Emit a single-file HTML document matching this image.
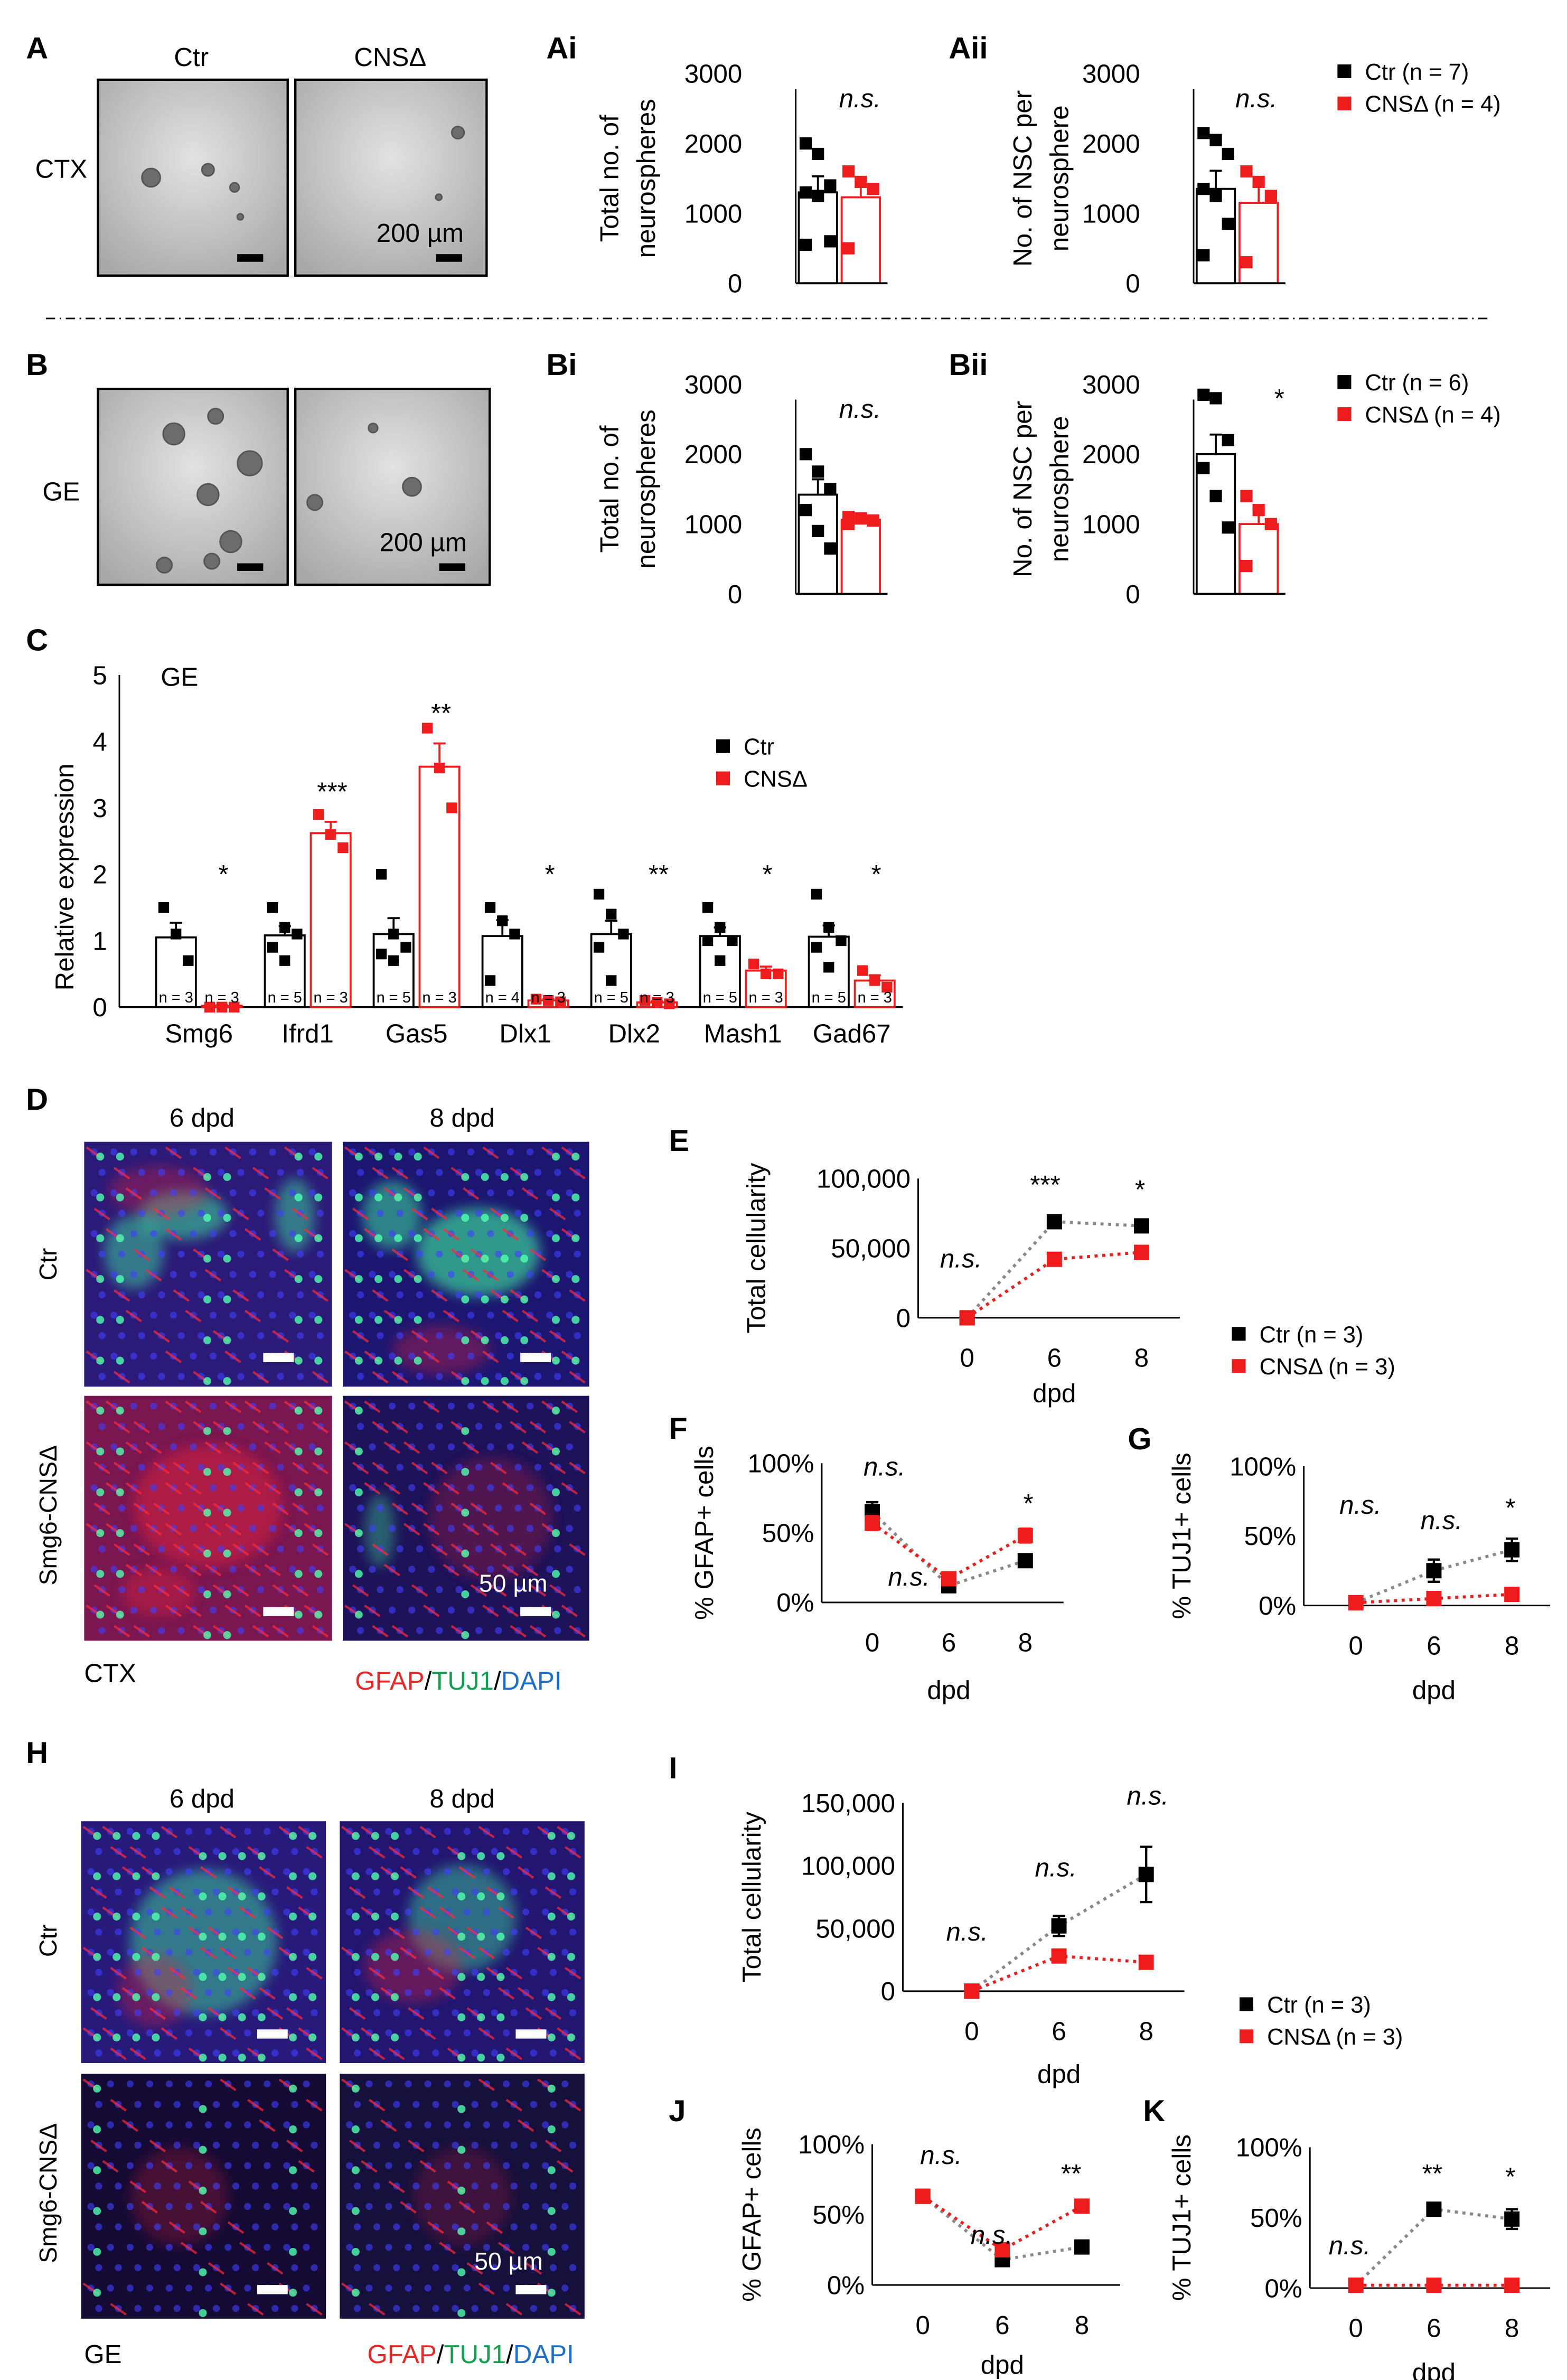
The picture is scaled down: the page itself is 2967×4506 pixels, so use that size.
<!DOCTYPE html>
<html><head><meta charset="utf-8"><style>
html,body{margin:0;padding:0;background:#fff}
svg{display:block}
text{font-family:"Liberation Sans",sans-serif;fill:#000}
</style></head><body>
<svg id="fig" xmlns="http://www.w3.org/2000/svg" width="2967" height="4506" viewBox="0 0 1024 1555">
<defs>
<filter id="bl" x="-50%" y="-50%" width="200%" height="200%"><feGaussianBlur stdDeviation="4"/></filter>
<radialGradient id="grayg" cx="50%" cy="40%" r="70%"><stop offset="0" stop-color="#e2e2e2"/><stop offset="1" stop-color="#a9a9a9"/></radialGradient>
</defs>
</svg>
<script>
// ---------- data ----------
const aiCtrPts=[2000,1850,1400,1300,1250,600,550];
const aiCnsPts=[1600,1450,1350,500];
const aiMeans=[1300,1230];
const aiErrs=[230,230];
const aiiCtrPts=[2150,2050,1850,1350,1250,850,400];
const aiiCnsPts=[1600,1450,1250,300];
const aiiMeans=[1350,1150];
const aiiErrs=[260,300];
const biCtrPts=[2000,1750,1500,1200,900,650];
const biCnsPts=[1100,1080,1050,1000];
const biMeans=[1420,1060];
const biErrs=[220,30];
const biiCtrPts=[2850,2800,2200,1800,1400,950];
const biiCnsPts=[1400,1200,1000,400];
const biiMeans=[2000,1000];
const biiErrs=[280,220];
const barTicks=[0,1000,2000,3000];

const genes=['Smg6','Ifrd1','Gas5','Dlx1','Dlx2','Mash1','Gad67'];
const geneCtrMean=[1.05,1.08,1.1,1.07,1.1,1.07,1.06];
const geneCtrErr=[0.22,0.14,0.24,0.24,0.2,0.13,0.17];
const geneCnsMean=[0.02,2.62,3.62,0.1,0.07,0.55,0.4];
const geneCnsErr=[0.01,0.17,0.35,0.02,0.02,0.06,0.08];
const geneCtrPts=[[1.5,1.1,0.7],[1.5,1.2,1.1,0.9,0.7],[2.0,1.1,0.9,0.8,0.7],[1.5,1.3,1.1,0.4],[1.7,1.4,1.1,0.9,0.4],[1.5,1.2,1.0,1.0,0.7],[1.7,1.2,1.0,0.9,0.6]];
const geneCnsPts=[[0,0,0],[2.9,2.6,2.4],[4.2,3.6,3.0],[0.12,0.1,0.08],[0.1,0.07,0.05],[0.65,0.5,0.5],[0.55,0.4,0.3]];
const geneSig=['*','***','**','*','**','*','*'];
const geneCtrN=['n = 3','n = 5','n = 5','n = 4','n = 5','n = 5','n = 5'];
const geneCnsN=['n = 3','n = 3','n = 3','n = 3','n = 3','n = 3','n = 3'];
const cTicks=[0,1,2,3,4,5];

const days=['0','6','8'];
const eCtr=[0,69000,66000], eCtrErr=[0,2500,3000];
const eCns=[0,42000,47000], eCnsErr=[0,2000,2500];
const eSig=['n.s.','***','*'];
const fCtr=[65,12,30], fCtrErr=[7,4,3];
const fCns=[57,17,48], fCnsErr=[5,3,5];
const fSig=['n.s.','n.s.','*'];
const gCtr=[2,25,40], gCtrErr=[1,8,8];
const gCns=[2,5,8], gCnsErr=[1,1,1];
const gSig=['n.s.','n.s.','*'];
const iCtr=[0,52000,93000], iCtrErr=[0,8000,22000];
const iCns=[0,28000,23000], iCnsErr=[0,5000,3000];
const iSig=['n.s.','n.s.','n.s.'];
const jCtr=[63,18,27], jCtrErr=[4,3,3];
const jCns=[63,25,56], jCnsErr=[4,4,4];
const jSig=['n.s.','n.s.','**'];
const kCtr=[2,56,49], kCtrErr=[1,3,7];
const kCns=[2,2,2], kCnsErr=[1,1,1];
const kSig=['n.s.','**','*'];

// ---------- helpers ----------
const NS='http://www.w3.org/2000/svg';
const svg=document.getElementById('fig');
function mk(tag,attrs,parent){const e=document.createElementNS(NS,tag);for(const k in attrs)e.setAttribute(k,attrs[k]);(parent||svg).appendChild(e);return e;}
function txt(x,y,s,size,anchor,extra,parent){const e=mk('text',Object.assign({x:x,y:y,'font-size':size,'text-anchor':anchor||'start'},extra||{}),parent);e.textContent=s;return e;}
function grp(name){const g=mk('g',{});return g;}
const RED='#ee1c1c';

// ---------- panel labels ----------
[['A',25,38],['Ai',365,38],['Aii',628,38],['B',25,245],['Bi',365,245],['Bii',628,245],['C',25,425],['D',25,725],['E',445,752],['F',445,940],['G',745,947],['H',25,1152],['I',445,1162],['J',445,1386],['K',755,1386]].forEach(p=>{
  const t=txt(p[1]-8,p[2],p[0],20,'start',{'font-weight':'bold'});
  
  
});

const sep=mk('line',{x1:30,y1:208,x2:975,y2:208,stroke:'#000','stroke-width':1,'stroke-dasharray':'6,3,1,3'});



// ---------- neurosphere images ----------
function sphereImg(x,y,w,h,name,spheres,showScale){
  const g=grp(name);
  mk('rect',{x:x,y:y,width:w,height:h,fill:'url(#grayg)',stroke:'#000','stroke-width':1.5},g);
  spheres.forEach(s=>{mk('circle',{cx:x+s[0]*w,cy:y+s[1]*h,r:s[2],fill:'#6c6c6c',stroke:'#555','stroke-width':1},g);});
  mk('rect',{x:x+w-33,y:y+h-14,width:17,height:5,fill:'#000'},g);
  if(showScale) txt(x+w-72,y+h-22,'200 µm',17,'start',{},g);
}
sphereImg(64,52,124,128,'ctx-ctr-image',[[0.28,0.5,6],[0.58,0.46,4],[0.72,0.55,3],[0.75,0.7,2]],false);
sphereImg(193,52,125,128,'ctx-cnsd-image',[[0.85,0.27,4],[0.75,0.6,2]],true);
sphereImg(64,254,124,128,'ge-ctr-image',[[0.4,0.23,7],[0.62,0.14,5],[0.8,0.38,8],[0.58,0.54,7],[0.7,0.78,7],[0.35,0.9,5],[0.6,0.88,5]],false);
sphereImg(193,254,127,128,'ge-cnsd-image',[[0.1,0.58,5],[0.6,0.5,6],[0.4,0.2,3]],true);
txt(125,43,'Ctr',17,'middle');
txt(255,43,'CNSΔ',17,'middle');
txt(40,116,'CTX',17,'middle');
txt(40,327,'GE',17,'middle');

// ---------- bar charts A/B ----------
function barChart(name,ax,yTop,yBot,ctrPts,cnsPts,means,errs,sig,sigX,sigY,t1,t2,tx1,tx2){
  const g=grp(name);
  const ys=v=>yBot-(v/3000)*(yBot-yTop);
  barTicks.forEach(t=>{txt(ax-35,ys(t)+6,String(t),17,'end',{},g);});
  const bw=25;
  const bx=[ax+2,ax+30];
  [0,1].forEach(i=>{
    const col=i?RED:'#000';
    const b=mk('rect',{x:bx[i],y:ys(means[i]),width:bw,height:yBot-ys(means[i]),fill:'#fff',stroke:col,'stroke-width':1.3},g);
    
    
    const cx=bx[i]+bw/2;
    mk('line',{x1:cx,y1:ys(means[i]+errs[i]),x2:cx,y2:ys(means[i]),stroke:col,'stroke-width':1.3},g);
    mk('line',{x1:cx-4,y1:ys(means[i]+errs[i]),x2:cx+4,y2:ys(means[i]+errs[i]),stroke:col,'stroke-width':1.3},g);
    const pts=i?cnsPts:ctrPts;
    pts.forEach((v,k)=>{
      const px=cx+((k%3)-1)*8;
      const p=mk('rect',{x:px-4,y:ys(v)-4,width:8,height:8,fill:col},g);
      
      
    });
  });
  mk('line',{x1:ax,y1:yTop+10,x2:ax,y2:yBot,stroke:'#000','stroke-width':1},g);
  mk('line',{x1:ax,y1:yBot,x2:ax+60,y2:yBot,stroke:'#000','stroke-width':1.3},g);
  txt(sigX,sigY,sig,17,'middle',{'font-style':sig==='n.s.'?'italic':'normal'},g);
  const cy=(yTop+yBot)/2;
  txt(tx1,cy,t1,17,'middle',{transform:`rotate(-90 ${tx1} ${cy})`},g);
  txt(tx2,cy,t2,17,'middle',{transform:`rotate(-90 ${tx2} ${cy})`},g);
}
barChart('chart-ai',520,48,185,aiCtrPts,aiCnsPts,aiMeans,aiErrs,'n.s.',562,70,'Total no. of','neurospheres',404,428);
barChart('chart-aii',780,48,185,aiiCtrPts,aiiCnsPts,aiiMeans,aiiErrs,'n.s.',821,70,'No. of NSC per','neurosphere',674,698);
barChart('chart-bi',520,251,388,biCtrPts,biCnsPts,biMeans,biErrs,'n.s.',562,273,'Total no. of','neurospheres',404,428);
barChart('chart-bii',780,251,388,biiCtrPts,biiCnsPts,biiMeans,biiErrs,'*',836,266,'No. of NSC per','neurosphere',674,698);

function legend(name,x,y,l1,l2){
  const g=grp(name);
  mk('rect',{x:x,y:y-10,width:9,height:9,fill:'#000'},g);
  txt(x+18,y,l1,15,'start',{},g);
  mk('rect',{x:x,y:y+11,width:9,height:9,fill:RED},g);
  txt(x+18,y+21,l2,15,'start',{},g);
}
legend('legend-a',874,52,'Ctr (n = 7)','CNSΔ (n = 4)');
legend('legend-b',874,255,'Ctr (n = 6)','CNSΔ (n = 4)');

// ---------- chart C ----------
(function(){
  const g=grp('chart-c');
  const ax=78,yTop=441,yBot=658,step=71.1,x0=130;
  const ys=v=>yBot-(v/5)*(yBot-yTop);
  cTicks.forEach(t=>{txt(ax-8,ys(t)+6,String(t),17,'end',{},g);});
  mk('line',{x1:ax,y1:yTop,x2:ax,y2:yBot,stroke:'#000','stroke-width':1},g);
  mk('line',{x1:ax,y1:yBot,x2:590,y2:yBot,stroke:'#000','stroke-width':1.3},g);
  txt(105,448,'GE',17,'start',{},g);
  txt(48,573,'Relative expression',17,'middle',{transform:'rotate(-90 48 573)'},g);
  genes.forEach((gn,i)=>{
    const cx=x0+i*step;
    const lab=txt(cx,681,gn,17,'middle',{},g);
    
    
    [[cx-28,geneCtrMean[i],geneCtrErr[i],geneCtrPts[i],'#000','ctr'],[cx+2,geneCnsMean[i],geneCnsErr[i],geneCnsPts[i],RED,'cnsd']].forEach(d=>{
      const b=mk('rect',{x:d[0],y:ys(d[1]),width:26,height:yBot-ys(d[1]),fill:'#fff',stroke:d[4],'stroke-width':1.3},g);
      
      
      const bc=d[0]+13;
      mk('line',{x1:bc,y1:ys(d[1]+d[2]),x2:bc,y2:ys(d[1]),stroke:d[4],'stroke-width':1.3},g);
      mk('line',{x1:bc-4,y1:ys(d[1]+d[2]),x2:bc+4,y2:ys(d[1]+d[2]),stroke:d[4],'stroke-width':1.3},g);
      d[3].forEach((v,k)=>{
        const px=bc+((k%3)-1)*8;
        const p=mk('rect',{x:px-3.5,y:ys(v)-3.5,width:7,height:7,fill:d[4]},g);
        
        
      });
    });
    txt(cx-15,655,geneCtrN[i],10,'middle',{},g);
    txt(cx+15,655,geneCnsN[i],10,'middle',{},g);
    const sy=ys(geneCnsMean[i]+geneCnsErr[i])-14;
    txt(cx+16,sy<575?sy:577,geneSig[i],17,'middle',{},g);
  });
  legend('legend-c',468,493,'Ctr','CNSΔ');
})();

// ---------- microscopy images ----------
function micro(x,y,w,h,name,base,blobs,redDens,greenDens,scaleLabel){
  const g=grp(name);
  mk('rect',{x:x,y:y,width:w,height:h,fill:base},g);
  blobs.forEach(b=>{mk('ellipse',{cx:x+b[0]*w,cy:y+b[1]*h,rx:b[2]*w,ry:b[3]*h,fill:b[4],opacity:b[5],filter:'url(#bl)'},g);});
  // texture: fibres and nuclei on a deterministic lattice
  for(let r=0;r<12;r++)for(let c=0;c<12;c++){
    const px=x+(c+0.5+((r%2)*0.4))*w/12.5, py=y+(r+0.5)*h/12;
    mk('circle',{cx:px,cy:py,r:2.3,fill:'#4040ff',opacity:0.6},g);
    if(((r*7+c*3)%10)<redDens) mk('line',{x1:px-5,y1:py-3,x2:px+5,y2:py+4,stroke:'#ff2a3a','stroke-width':1.5,opacity:0.7},g);
    if(((r*5+c*11)%10)<greenDens) mk('circle',{cx:px+4,cy:py+3,r:2.6,fill:'#50ffb0',opacity:0.8},g);
  }
  mk('rect',{x:x+w-45,y:y+h-22,width:20,height:6,fill:'#fff'},g);
  if(scaleLabel) txt(x+w-72,y+h-32,'50 µm',16,'start',{style:'fill:#fff'},g);
}
const R='#e0203a',Gc='#40f0a0';
micro(55,746,162,160,'d-ctr-6dpd-image','#2c1a78',[[0.4,0.3,0.18,0.1,Gc,0.5],[0.2,0.45,0.12,0.15,Gc,0.45],[0.3,0.2,0.2,0.1,R,0.35],[0.85,0.3,0.08,0.15,Gc,0.45]],3,2);
micro(224,746,161,160,'d-ctr-8dpd-image','#1c1670',[[0.55,0.45,0.25,0.18,Gc,0.6],[0.2,0.3,0.12,0.14,Gc,0.5],[0.4,0.85,0.2,0.1,R,0.35]],4,4);
micro(55,912,162,160,'d-cnsd-6dpd-image','#7a1650',[[0.5,0.45,0.3,0.25,R,0.5],[0.3,0.8,0.15,0.1,R,0.4]],6,2);
micro(224,912,161,160,'d-cnsd-8dpd-image','#1e1258',[[0.6,0.5,0.25,0.25,R,0.25],[0.15,0.55,0.06,0.15,Gc,0.35]],5,1,true);
micro(53,1190,160,158,'h-ctr-6dpd-image','#281a7a',[[0.5,0.5,0.3,0.3,Gc,0.45],[0.3,0.7,0.15,0.15,R,0.35]],4,4);
micro(222,1190,160,158,'h-ctr-8dpd-image','#221670',[[0.5,0.4,0.22,0.22,Gc,0.4],[0.3,0.6,0.2,0.15,R,0.35]],4,3);
micro(53,1355,160,160,'h-cnsd-6dpd-image','#140a34',[[0.4,0.5,0.2,0.2,R,0.25]],2,1);
micro(222,1355,160,160,'h-cnsd-8dpd-image','#16103c',[[0.5,0.5,0.2,0.2,R,0.2]],2,1,true);
[[132,736,'6 dpd'],[302,736,'8 dpd'],[132,1181,'6 dpd'],[302,1181,'8 dpd']].forEach(a=>txt(a[0],a[1],a[2],17,'middle'));
[[37,826,'Ctr'],[37,990,'Smg6-CNSΔ'],[37,1268,'Ctr'],[37,1433,'Smg6-CNSΔ']].forEach(a=>txt(a[0],a[1],a[2],16,'middle',{transform:`rotate(-90 ${a[0]} ${a[1]})`}));
txt(55,1099,'CTX',17,'start');
txt(55,1544,'GE',17,'start');
function stain(x,y){
  const t=mk('text',{x:x,y:y,'font-size':17});
  t.innerHTML='<tspan style="fill:#e52828">GFAP</tspan><tspan>/</tspan><tspan style="fill:#10a050">TUJ1</tspan><tspan>/</tspan><tspan style="fill:#1e6ec8">DAPI</tspan>';
  
  
}
stain(232,1104);stain(240,1544);

// ---------- line charts ----------
function lineChart(name,ax,yTop,yBot,yMax,tickLabels,x0,step,ctr,ctrE,cns,cnsE,sig,sigPos,title,tx,dpdY){
  const g=grp(name);
  const ys=v=>yBot-(v/yMax)*(yBot-yTop);
  const n=tickLabels.length-1;
  tickLabels.forEach((t,i)=>{txt(ax-5,yBot-i*(yBot-yTop)/n+6,t,17,'end',{},g);});
  mk('line',{x1:ax,y1:yTop,x2:ax,y2:yBot,stroke:'#000','stroke-width':1},g);
  mk('line',{x1:ax,y1:yBot,x2:x0+2*step+25,y2:yBot,stroke:'#000','stroke-width':1},g);
  days.forEach((d,i)=>txt(x0+i*step,yBot+32,d,17,'middle',{},g));
  txt(x0+step,dpdY,'dpd',17,'middle',{},g);
  const cy=(yTop+yBot)/2;
  txt(tx,cy,title,17,'middle',{transform:`rotate(-90 ${tx} ${cy})`},g);
  [[ctr,ctrE,'#888','#000','ctr'],[cns,cnsE,RED,RED,'cnsd']].forEach(s=>{
    const pts=s[0].map((v,i)=>(x0+i*step)+','+ys(v)).join(' ');
    const l=mk('polyline',{points:pts,fill:'none',stroke:s[2],'stroke-width':2,'stroke-dasharray':'2,3'},g);
    
    
    s[0].forEach((v,i)=>{
      const cx=x0+i*step;
      if(s[1][i]>0){
        mk('line',{x1:cx,y1:ys(v+s[1][i]),x2:cx,y2:ys(v-s[1][i]),stroke:s[3],'stroke-width':1.5},g);
        mk('line',{x1:cx-4,y1:ys(v+s[1][i]),x2:cx+4,y2:ys(v+s[1][i]),stroke:s[3],'stroke-width':1.5},g);
        mk('line',{x1:cx-4,y1:ys(v-s[1][i]),x2:cx+4,y2:ys(v-s[1][i]),stroke:s[3],'stroke-width':1.5},g);
      }
      const p=mk('rect',{x:cx-5,y:ys(v)-5,width:10,height:10,fill:s[3]},g);
      
      
    });
  });
  sig.forEach((s,i)=>txt(sigPos[i][0],sigPos[i][1],s,17,'middle',{'font-style':s==='n.s.'?'italic':'normal'},g));
}
lineChart('chart-e',600,770,861,100000,['0','50,000','100,000'],632,57,eCtr,eCtrErr,eCns,eCnsErr,eSig,[[628,828],[683,780],[745,783]],'Total cellularity',500,916);
legend('legend-e',805,877,'Ctr (n = 3)','CNSΔ (n = 3)');
lineChart('chart-f',537,956,1047,100,['0%','50%','100%'],570,50,fCtr,fCtrErr,fCns,fCnsErr,fSig,[[578,964],[594,1036],[672,988]],'% GFAP+ cells',466,1110);
lineChart('chart-g',852,958,1049,100,['0%','50%','100%'],886,51,gCtr,gCtrErr,gCns,gCnsErr,gSig,[[889,989],[942,999],[987,991]],'% TUJ1+ cells',778,1110);
lineChart('chart-i',590,1178,1301,150000,['0','50,000','100,000','150,000'],635,57,iCtr,iCtrErr,iCns,iCnsErr,iSig,[[632,1268],[690,1226],[750,1179]],'Total cellularity',497,1361);
legend('legend-i',810,1315,'Ctr (n = 3)','CNSΔ (n = 3)');
lineChart('chart-j',570,1401,1493,100,['0%','50%','100%'],603,52,jCtr,jCtrErr,jCns,jCnsErr,jSig,[[615,1414],[648,1466],[700,1426]],'% GFAP+ cells',497,1551);
lineChart('chart-k',856,1403,1495,100,['0%','50%','100%'],886,51,kCtr,kCtrErr,kCns,kCnsErr,kSig,[[882,1473],[936,1426],[987,1428]],'% TUJ1+ cells',778,1556);
</script>
</body></html>
